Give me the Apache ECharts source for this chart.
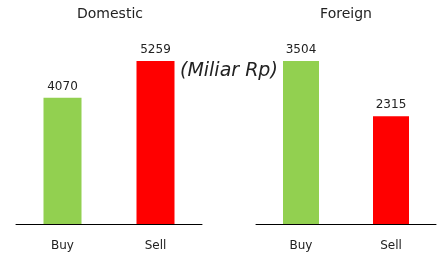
<!DOCTYPE html>
<html><head><meta charset="utf-8">
<script src="https://cdn.jsdelivr.net/npm/echarts@6/dist/echarts.min.js"></script>
<style>html,body{margin:0;padding:0;background:#fff}#c{width:441px;height:255px}</style>
</head><body><div id="c"></div>
<script>
const categories = ['Buy', 'Sell'];
const domesticValues = [4070, 5259];
const foreignValues = [3504, 2315];
const panelTitles = ['Domestic', 'Foreign'];
const unitLabel = '(Miliar Rp)';
const barColors = ['#92D050', '#FF0000'];

const font = 'DejaVu Sans';
const chart = echarts.init(document.getElementById('c'), null, {renderer: 'canvas'});
function mkData(vals) {
  return vals.map((v, i) => ({value: v, itemStyle: {color: barColors[i]}}));
}
const axisX = (gi) => ({
  type: 'category', gridIndex: gi, data: categories,
  axisLine: {lineStyle: {color: '#000', width: 1}},
  axisTick: {show: false},
  axisLabel: {fontFamily: font, fontSize: 12, color: '#222', margin: 16}
});
const axisY = (gi, vals) => ({
  type: 'value', gridIndex: gi, min: 0, max: Math.max(...vals),
  show: false, splitLine: {show: false}
});
chart.setOption({
  animation: false,
  title: [
    {text: panelTitles[0], left: 105, top: 2, textAlign: 'center',
     textStyle: {fontFamily: font, fontSize: 14, fontWeight: 'normal', color: '#222'}},
    {text: panelTitles[1], left: 341, top: 2, textAlign: 'center',
     textStyle: {fontFamily: font, fontSize: 14, fontWeight: 'normal', color: '#222'}}
  ],
  graphic: [{
    type: 'text', left: 180, top: 62,
    style: {text: unitLabel, font: 'italic 19px "DejaVu Sans"', fill: '#222'}
  }],
  grid: [
    {left: 16, width: 186, top: 61, height: 163},
    {left: 256, width: 180, top: 61, height: 163}
  ],
  xAxis: [axisX(0), axisX(1)],
  yAxis: [axisY(0, domesticValues), axisY(1, foreignValues)],
  series: [
    {type: 'bar', xAxisIndex: 0, yAxisIndex: 0, barWidth: 38, data: mkData(domesticValues),
     label: {show: true, position: 'top', distance: 5, fontFamily: font, fontSize: 12, color: '#222'}},
    {type: 'bar', xAxisIndex: 1, yAxisIndex: 1, barWidth: 36, data: mkData(foreignValues),
     label: {show: true, position: 'top', distance: 5, fontFamily: font, fontSize: 12, color: '#222'}}
  ]
});
</script></body></html>
